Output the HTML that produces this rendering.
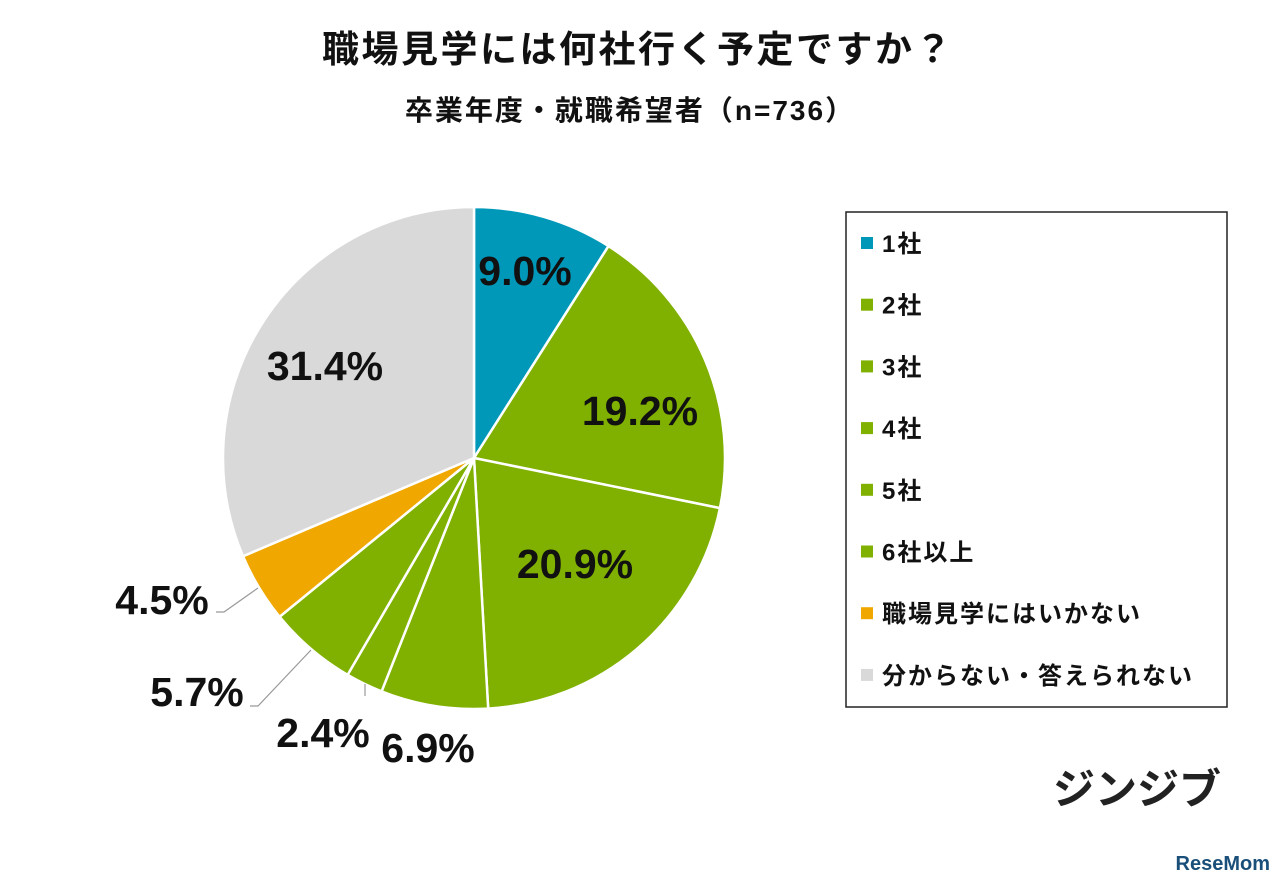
<!DOCTYPE html>
<html><head><meta charset="utf-8"><style>
body{margin:0;width:1280px;height:885px;background:#fff;overflow:hidden;font-family:"Liberation Sans","Noto Sans CJK JP",sans-serif}
svg text{font-family:"Liberation Sans","Noto Sans CJK JP",sans-serif}
</style></head><body>
<svg id="c" width="1280" height="885">
<text x="638" y="62" text-anchor="middle" font-size="37" font-weight="bold" letter-spacing="2.5" fill="#111">職場見学には何社行く予定ですか？</text>
<text x="630" y="120" text-anchor="middle" font-size="28" font-weight="bold" letter-spacing="2" fill="#111">卒業年度・就職希望者（n=736）</text>
<g id="slices"></g>
<g id="labels"></g>
<polyline points="216,612 224,612 258,588" fill="none" stroke="#999" stroke-width="1.2"/>
<polyline points="250,706 258,706 311,650" fill="none" stroke="#999" stroke-width="1.2"/>
<line x1="365" y1="684" x2="365" y2="696" stroke="#999" stroke-width="1.2"/>
<rect x="846" y="212" width="381" height="495" fill="#fff" stroke="#222" stroke-width="1.5"/>
<g id="legend"></g>
<text x="1137" y="804" text-anchor="middle" font-size="42" font-weight="bold" fill="#222">ジンジブ</text>
<text x="1270" y="870" text-anchor="end" font-size="20" font-weight="bold" fill="#1a4f7a">ReseMom</text>
</svg>
<script>
const categories=["1社","2社","3社","4社","5社","6社以上","職場見学にはいかない","分からない・答えられない"];
const values=[9.0,19.2,20.9,6.9,2.4,5.7,4.5,31.4];
const labelsTxt=["9.0%","19.2%","20.9%","6.9%","2.4%","5.7%","4.5%","31.4%"];
const colors=["#0098b9","#80b000","#80b000","#80b000","#80b000","#80b000","#f0a800","#d9d9d9"];
const cx=474,cy=458,R=251,NS="http://www.w3.org/2000/svg";
const labelPos=[[525,285],[640,425],[575,578],[428,762],[323,747],[197,706],[162,614],[325,380]];
const total=values.reduce((a,b)=>a+b,0);
function pt(a,r){return [cx+r*Math.sin(a),cy-r*Math.cos(a)];}
let acc=0;
const gs=document.getElementById('slices'),gl=document.getElementById('labels'),gL=document.getElementById('legend');
values.forEach((v,i)=>{
 const a0=acc/total*2*Math.PI;acc+=v;const a1=acc/total*2*Math.PI;
 const p0=pt(a0,R),p1=pt(a1,R);
 const p=document.createElementNS(NS,'path');
 p.setAttribute('d',`M${cx},${cy}L${p0[0]},${p0[1]}A${R},${R} 0 ${a1-a0>Math.PI?1:0} 1 ${p1[0]},${p1[1]}Z`);
 p.setAttribute('fill',colors[i]);p.setAttribute('stroke','#fff');p.setAttribute('stroke-width','2.5');
 
 
 gs.appendChild(p);
 const lp=labelPos[i];
 const t=document.createElementNS(NS,'text');
 t.setAttribute('x',lp[0]);t.setAttribute('y',lp[1]);
 t.setAttribute('text-anchor','middle');t.setAttribute('font-size','41');t.setAttribute('font-weight','bold');t.setAttribute('fill','#111');
 t.textContent=labelsTxt[i];
 
 
 gl.appendChild(t);
 const y=243+i*61.7;
 const s=document.createElementNS(NS,'rect');
 s.setAttribute('x',861);s.setAttribute('y',y-6);s.setAttribute('width',12);s.setAttribute('height',12);s.setAttribute('fill',colors[i]);
 
 
 gL.appendChild(s);
 const lt=document.createElementNS(NS,'text');
 lt.setAttribute('x',882);lt.setAttribute('y',y+9);lt.setAttribute('font-size','24');lt.setAttribute('font-weight','bold');lt.setAttribute('letter-spacing','2');lt.setAttribute('fill','#111');
 lt.textContent=categories[i];
 
 
 gL.appendChild(lt);
});
</script>
</body></html>
